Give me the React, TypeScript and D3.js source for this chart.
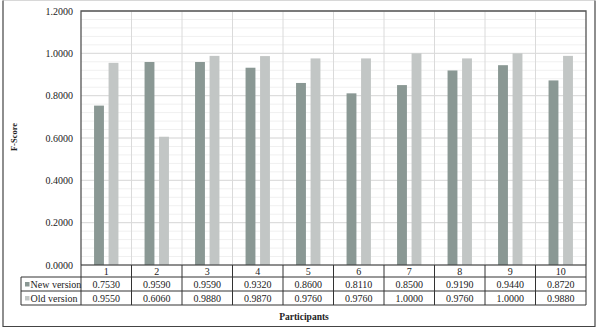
import React from "react";
import * as d3 from "d3";

const participants = ["1", "2", "3", "4", "5", "6", "7", "8", "9", "10"];
const newVersion = [0.753, 0.959, 0.959, 0.932, 0.86, 0.811, 0.85, 0.919, 0.944, 0.872];
const oldVersion = [0.955, 0.606, 0.988, 0.987, 0.976, 0.976, 1.0, 0.976, 1.0, 0.988];
const yTicks = [0, 0.2, 0.4, 0.6, 0.8, 1.0, 1.2];
const seriesNames = ["New version", "Old version"];

const W = 599;
const H = 331;
const left = 81;
const right = 586;
const top = 11;
const zeroY = 265;
const rowH = [12, 14, 14];
const legendLeft = 21;
const colors = ["#8a9894", "#c2c6c5"];
const font = "'Liberation Serif', 'Times New Roman', serif";

export default function App() {
  const x = d3.scaleBand<string>().domain(participants).range([left, right]);
  const y = d3.scaleLinear().domain([0, 1.2]).range([zeroY, top]);
  const inner = d3
    .scaleBand<string>()
    .domain(seriesNames)
    .range([0, x.bandwidth()])
    .paddingInner(0.32)
    .paddingOuter(0.9);
  const minor = d3.range(0, 1.2001, 0.04);
  const series = [newVersion, oldVersion];
  const rowY = [zeroY, zeroY + rowH[0], zeroY + rowH[0] + rowH[1], zeroY + rowH[0] + rowH[1] + rowH[2]];
  const bw = Math.min(inner.bandwidth(), 11);

  return (
    <svg width={W} height={H} style={{ position: "absolute", left: 0, top: 0 }}>
      <rect x={0} y={0} width={W} height={H} fill="#fff" />
      <line x1={3} x2={595} y1={0.5} y2={0.5} stroke="#d8d8d8" strokeWidth={1} />
      <path d="M3,0.5V326.5H595V0.5" fill="none" stroke="#444" strokeWidth={1.2} />
      {minor.map((v, i) => (
        <line key={"m" + i} x1={left} x2={right} y1={y(v)} y2={y(v)} stroke="#f0f0f0" strokeWidth={1} />
      ))}
      {yTicks.map((v) => (
        <line key={"g" + v} x1={left} x2={right} y1={y(v)} y2={y(v)} stroke="#dadada" strokeWidth={1} />
      ))}
      {participants.map((p, i) =>
        i > 0 ? (
          <line key={"v" + p} x1={x(p)} x2={x(p)} y1={top} y2={zeroY} stroke="#dadada" strokeWidth={1} />
        ) : null
      )}
      {participants.map((p, i) =>
        series.map((s, k) => (
          <rect
            key={p + "-" + k}
            x={(x(p) as number) + (inner(seriesNames[k]) as number)}
            y={y(s[i])}
            width={bw}
            height={zeroY - y(s[i])}
            fill={colors[k]}
          />
        ))
      )}
      <path d={`M${left},${zeroY}V${top}H${right}V${zeroY}`} fill="none" stroke="#555" strokeWidth={1.3} />
      {yTicks.map((v) => (
        <text
          key={"t" + v}
          x={73}
          y={y(v) + 3.5}
          textAnchor="end"
          fontFamily={font}
          fontSize={10}
          fill="#222"
        >
          {d3.format(".4f")(v)}
        </text>
      ))}
      <g stroke="#333" strokeWidth={1} fill="none">
        <line x1={left} x2={right} y1={rowY[0]} y2={rowY[0]} />
        <line x1={legendLeft} x2={right} y1={rowY[1]} y2={rowY[1]} />
        <line x1={legendLeft} x2={right} y1={rowY[2]} y2={rowY[2]} />
        <line x1={legendLeft} x2={right} y1={rowY[3]} y2={rowY[3]} />
        <line x1={legendLeft} x2={legendLeft} y1={rowY[1]} y2={rowY[3]} />
        {participants.map((p) => (
          <line key={"tv" + p} x1={x(p)} x2={x(p)} y1={rowY[0]} y2={rowY[3]} />
        ))}
        <line x1={right} x2={right} y1={rowY[0]} y2={rowY[3]} />
      </g>
      {participants.map((p) => (
        <text
          key={"h" + p}
          x={(x(p) as number) + x.bandwidth() / 2}
          y={rowY[0] + 9.5}
          textAnchor="middle"
          fontFamily={font}
          fontSize={10}
          fill="#222"
        >
          {p}
        </text>
      ))}
      {series.map((s, k) => (
        <g key={"row" + k}>
          <rect x={legendLeft + 4} y={rowY[k + 1] + 5} width={4.5} height={4.5} fill={colors[k]} />
          <text x={legendLeft + 9.5} y={rowY[k + 1] + 10.5} fontFamily={font} fontSize={10} fill="#222">
            {seriesNames[k]}
          </text>
          {participants.map((p, i) => (
            <text
              key={"c" + k + p}
              x={(x(p) as number) + x.bandwidth() / 2}
              y={rowY[k + 1] + 10.5}
              textAnchor="middle"
              fontFamily={font}
              fontSize={10}
              fill="#222"
            >
              {d3.format(".4f")(s[i])}
            </text>
          ))}
        </g>
      ))}
      <text
        x={304}
        y={320}
        textAnchor="middle"
        fontFamily={font}
        fontSize={9.5}
        fontWeight="bold"
        fill="#222"
      >
        Participants
      </text>
      <text
        transform={`translate(17,${137}) rotate(-90)`}
        textAnchor="middle"
        fontFamily={font}
        fontSize={8.5}
        fontWeight="bold"
        fill="#222"
      >
        F-Score
      </text>
    </svg>
  );
}
